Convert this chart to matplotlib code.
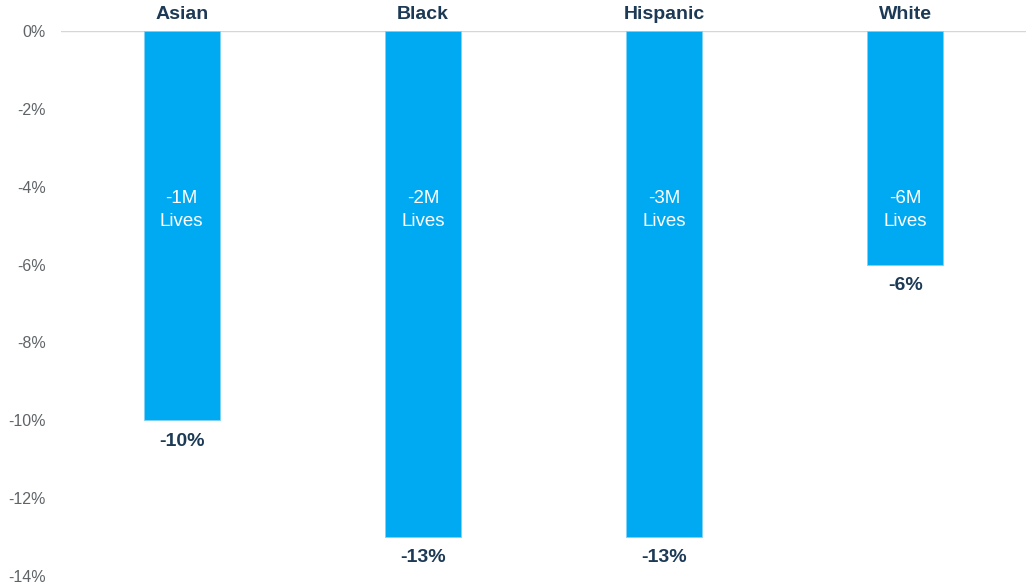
import matplotlib.pyplot as plt
import numpy as np

plt.rcParams["font.family"] = ["Liberation Sans", "DejaVu Sans"]

BLUE = "#00aaf2"
NAVY = "#1c3a55"
GREY = "#5f6468"

groups = ["Asian", "Black", "Hispanic", "White"]
change_pct = [-10, -13, -13, -6]
lives_labels = ["-1M\nLives", "-2M\nLives", "-3M\nLives", "-6M\nLives"]
yticks = [0, -2, -4, -6, -8, -10, -12, -14]

fig = plt.figure(figsize=(10.26, 5.88), dpi=100)
ax = fig.add_axes([0.0595, 0.0204, 0.9405, 0.9269])

x = np.arange(len(groups))
ax.bar(x, change_pct, width=0.315, color=BLUE, edgecolor="#7fd2f7", linewidth=0.6, zorder=2)

ax.set_xlim(-0.5, len(groups) - 0.5)
ax.set_ylim(-14, 0)
ax.axhline(0, color="#d6d6d6", linewidth=1, zorder=1)

for xi, v, lab, g in zip(x, change_pct, lives_labels, groups):
    ax.text(xi, -4.6, lab, ha="center", va="center", color="white",
            fontsize=13.5, linespacing=1.5, zorder=3)
    ax.annotate(f"{v}%", (xi, v), xytext=(0, -15), textcoords="offset points",
                ha="center", va="center", fontsize=14, fontweight="bold", color=NAVY)
    ax.annotate(g, (xi, 0), xytext=(0, 12), textcoords="offset points",
                ha="center", va="center", fontsize=14, fontweight="bold", color=NAVY,
                annotation_clip=False)

ax.set_yticks(yticks)
ax.set_yticklabels([f"{t}%" for t in yticks], fontsize=11.5, color=GREY)
ax.tick_params(axis="y", length=0, pad=11)
ax.set_xticks([])
for s in ax.spines.values():
    s.set_visible(False)

fig.savefig("out.png", dpi=100)
